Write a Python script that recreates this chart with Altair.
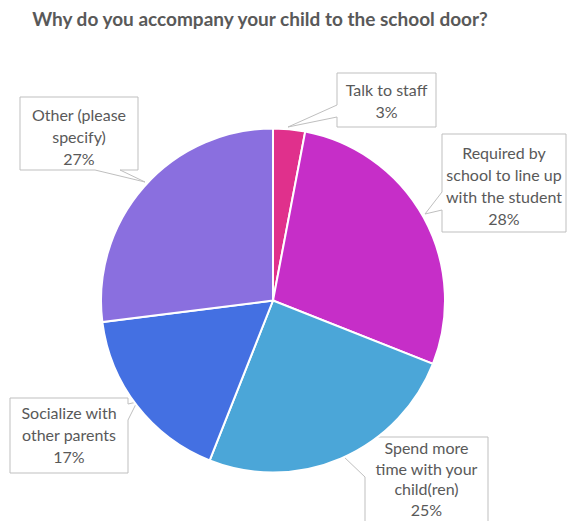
import altair as alt
import pandas as pd

# ---- data ----
categories = [
    "Talk to staff",
    "Required by school to line up with the student",
    "Spend more time with your child(ren)",
    "Socialize with other parents",
    "Other (please specify)",
]
values = [3, 28, 25, 17, 27]
colors = ["#E0308C", "#C62EC8", "#4BA6D8", "#4470E2", "#8A6FDF"]
label_lines = [
    ["Talk to staff"],
    ["Required by", "school to line up", "with the student"],
    ["Spend more", "time with your", "child(ren)"],
    ["Socialize with", "other parents"],
    ["Other (please", "specify)"],
]
title_text = "Why do you accompany your child to the school door?"

# ---- layout (page pixels) ----
W, H = 559, 513
CX, CY, R = 273, 300.5, 172
label_centers = [(386.5, 101.5), (504, 187), (426.5, 480), (69, 436), (79, 138)]
line_heights = [22, 22, 20.5, 22, 22]
callouts = [
    [(337, 73), (436, 73), (436, 127), (337, 127), (337, 117), (288, 127), (337, 105), (337, 73)],
    [(442, 134), (566, 134), (566, 232), (442, 232), (442, 210), (425, 214), (442, 192), (442, 134)],
    [(365, 437), (488, 437), (488, 540), (365, 540), (365, 477), (343, 456), (365, 445), (365, 437)],
    [(10, 398), (128, 398), (128, 404), (137, 402), (128, 420), (128, 473), (10, 473), (10, 398)],
    [(20, 97), (138, 97), (138, 170), (120, 170), (145, 182), (95, 170), (20, 170), (20, 97)],
]

xs = alt.Scale(domain=[8, 8 + W], nice=False, zero=False)
ys = alt.Scale(domain=[8, 8 + H], nice=False, zero=False, reverse=True)

pie_df = pd.DataFrame({"category": categories, "value": values, "idx": range(len(values))})

poly_rows = []
for i, pts in enumerate(callouts):
    for k, (px, py) in enumerate(pts):
        poly_rows.append({"id": i, "k": k, "px": px, "py": py})
poly_df = pd.DataFrame(poly_rows)

lab_rows = []
for i, (lines, v) in enumerate(zip(label_lines, values)):
    cx, cy = label_centers[i]
    lh = line_heights[i]
    allines = lines + [f"{v}%"]
    top = cy - (len(allines) - 1) * lh / 2
    for j, t in enumerate(allines):
        lab_rows.append({"px": cx, "py": top + j * lh, "text": t})
lab_df = pd.DataFrame(lab_rows)

title_df = pd.DataFrame({"px": [260], "py": [20], "text": [title_text]})

callout_layer = alt.Chart(poly_df).mark_line(stroke="#BFBFBF", strokeWidth=1).encode(
    x=alt.X("px:Q", scale=xs, axis=None),
    y=alt.Y("py:Q", scale=ys, axis=None),
    order=alt.Order("k:Q"),
    detail="id:N",
)

pie = alt.Chart(pie_df).mark_arc(outerRadius=R, stroke="white", strokeWidth=2).encode(
    theta=alt.Theta("value:Q", stack=True),
    color=alt.Color("category:N", scale=alt.Scale(domain=categories, range=colors), legend=None),
    order=alt.Order("idx:Q"),
    x=alt.value(CX - 8),
    y=alt.value(CY - 8),
)

labels = alt.Chart(lab_df).mark_text(
    font="Lato", fontSize=16, color="#595959",
    align="center", baseline="middle",
).encode(
    x=alt.X("px:Q", scale=xs, axis=None),
    y=alt.Y("py:Q", scale=ys, axis=None),
    text="text:N",
)

title = alt.Chart(title_df).mark_text(
    font="Lato", fontSize=19, fontWeight="bold", color="#595959",
    align="center", baseline="middle",
).encode(
    x=alt.X("px:Q", scale=xs, axis=None),
    y=alt.Y("py:Q", scale=ys, axis=None),
    text="text:N",
)

chart = alt.layer(callout_layer, pie, labels, title).properties(
    width=W, height=H, padding=0,
    autosize=alt.AutoSizeParams(type="none"),
).configure_view(stroke=None)

chart.save("out.html", embed_options={"renderer": "svg", "actions": False})
